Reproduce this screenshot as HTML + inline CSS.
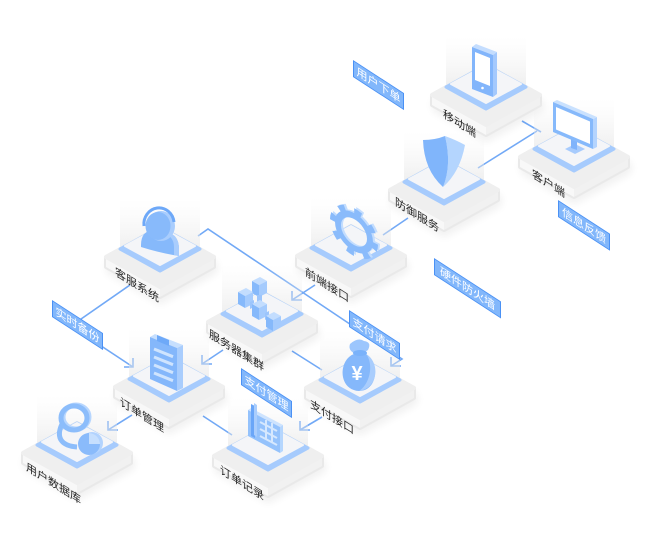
<!DOCTYPE html>
<html><head><meta charset="utf-8"><style>
html,body{margin:0;padding:0;background:#fff;}
svg{display:block;}
text{font-family:"Liberation Sans","Noto Sans CJK SC",sans-serif;}
</style></head><body>
<svg width="650" height="540" viewBox="0 0 650 540" xmlns="http://www.w3.org/2000/svg">
<defs>
 <linearGradient id="gl" x1="0" y1="0" x2="0" y2="1">
  <stop offset="0" stop-color="#f2f2f2" stop-opacity="0"/>
  <stop offset="1" stop-color="#e6e6e6" stop-opacity="0.65"/>
 </linearGradient>
 <filter id="sh" x="-30%" y="-30%" width="160%" height="160%"><feGaussianBlur stdDeviation="4"/></filter>
 <g id="pf">
  <path d="M-40,-8 L-40,-58 L40,-58 L40,-8 L0,-30Z" fill="url(#gl)"/>
  <path d="M-54,4 L0,-26 L58,6 L58,16 L0,48 L-54,16Z" fill="#000" opacity="0.05" filter="url(#sh)"/>
  <path d="M-54,0 L0,-30 L54,0 L54,10 L0,40 L-54,10Z" fill="#e9e9e9" stroke="#e9e9e9" stroke-width="4" stroke-linejoin="round"/>
  <path d="M-54,0 L0,30 L0,40 L-54,10Z" fill="#f8f8f8"/>
  <path d="M0,30 L54,0 L54,10 L0,40Z" fill="#f1f1f1"/>
  <path d="M-54,0 L0,-30 L54,0 L0,30Z" fill="#efefef" stroke="#efefef" stroke-width="4" stroke-linejoin="round"/>
  <path d="M-40,-8 L0,-30 L40,-8 L0,14Z" fill="#a6cbfd" stroke="#a6cbfd" stroke-width="3" stroke-linejoin="round"/>
  <path d="M-35,-11 L0,-30 L35,-11 L0,8Z" fill="#f4f5f8" stroke="#f4f5f8" stroke-width="2" stroke-linejoin="round"/>
 </g>
</defs>

<!-- connectors -->
<g stroke="#72a9f6" stroke-width="1.6" fill="none" stroke-linejoin="miter">
 <line x1="522" y1="121" x2="541" y2="132"/>
 <line x1="478" y1="168" x2="537" y2="131"/>
 <line x1="408" y1="218" x2="383" y2="235"/>
 <polyline points="198,236 208,229 402,359 391,366"/>
 <polyline points="391,357 391,366 401,366"/>
 <line x1="315" y1="285" x2="292" y2="300"/>
 <polyline points="292,291 292,300 302,300"/>
 <polyline points="130,285 71,326 133,367"/>
 <polyline points="124,367 133,367 133,358"/>
 <line x1="223" y1="350" x2="202" y2="364"/>
 <polyline points="202,355 202,364 212,364"/>
 <line x1="292" y1="351" x2="322" y2="370"/>
 <line x1="132" y1="415" x2="108" y2="430"/>
 <polyline points="108,421 108,430 118,430"/>
 <line x1="203" y1="416" x2="232" y2="435"/>
 <line x1="322" y1="417" x2="300" y2="430"/>
 <polyline points="300,421 300,430 310,430"/>
</g>

<!-- 移动端 -->
<g transform="translate(486,95)">
 <use href="#pf"/>
 <path d="M-14,-48 L-10,-51 L11,-43 L7,-40Z" fill="#c4ddfe"/>
 <path d="M7,-40 L11,-43 L11,-1 L7,2Z" fill="#a4c9fd"/>
 <path d="M-14,-48 L7,-40 L7,2 L-14,-6Z" fill="#82b5fb"/>
 <path d="M-11,-43 L4,-37 L4,-9 L-11,-15Z" fill="#fff"/>
 <circle cx="-3.5" cy="-7" r="1.3" fill="#fff"/>
</g>
<text transform="translate(443,117) skewY(32)" font-size="11" fill="#262626">移动端</text>

<!-- 客户端 -->
<g transform="translate(574,157)">
 <use href="#pf"/>
 <path d="M-9,-8 L1,-13 L11,-8 L1,-3Z" fill="#a7cbfd"/>
 <path d="M-3,-20 L3,-18 L3,-7 L-3,-9Z" fill="#7fb3fb"/>
 <path d="M19,-38 L23,-40 L23,-10 L19,-8Z" fill="#b4d4fe"/>
 <path d="M-21,-55 L-17,-57 L23,-40 L19,-38Z" fill="#c9e1fe"/>
 <path d="M-21,-55 L19,-38 L19,-8 L-21,-25Z" fill="#86b9fb"/>
 <path d="M-18,-50 L16,-35.5 L16,-13 L-18,-27.5Z" fill="#fff"/>
</g>
<text transform="translate(532,177) skewY(32)" font-size="11" fill="#262626">客户端</text>

<!-- 防御服务 -->
<g transform="translate(444,190)">
 <use href="#pf"/>
 <path d="M1,-54 Q12,-50 21,-45 Q16,-18 -1,-3 Q8,-25 1,-54Z" fill="#b4d5fe"/>
 <path d="M-21,-50 Q-9,-50 1,-54 Q8,-25 -1,-3 Q-20,-20 -21,-50Z" fill="#80b5fb"/>
</g>
<text transform="translate(395,205) skewY(32)" font-size="11" fill="#262626">防御服务</text>

<!-- 前端接口 -->
<g transform="translate(351,256)">
 <use href="#pf"/>
 <g transform="translate(3,-24) skewY(28)">
  <circle cx="2" cy="-2" r="16" stroke="#c3ddfe" stroke-width="6" fill="none"/>
  <circle cx="2" cy="-2" r="21" stroke="#c3ddfe" stroke-width="6" fill="none" stroke-dasharray="7 9.5"/>
  <circle cx="0" cy="0" r="16" stroke="#8abbfb" stroke-width="6" fill="none"/>
  <circle cx="0" cy="0" r="21" stroke="#8abbfb" stroke-width="6" fill="none" stroke-dasharray="7 9.5"/>
 </g>
</g>
<text transform="translate(305,275) skewY(32)" font-size="11" fill="#262626">前端接口</text>

<!-- 客服系统 -->
<g transform="translate(160,257)">
 <use href="#pf"/>
 <path d="M-19,-12 Q-19,-27 -5,-27 L7,-25 Q19,-22 19,-8 L19,-1 Q0,-4 -19,-10Z" fill="#86b9fb"/>
 <path d="M7,-25 Q19,-22 19,-8 L19,-1 L14,-2 L14,-10 Q14,-20 4,-24Z" fill="#a9cdfd"/>
 <ellipse cx="1" cy="-31" rx="14" ry="15" fill="#a9cdfd"/>
 <ellipse cx="-2" cy="-31" rx="12.5" ry="14" fill="#88bafb"/>
 <path d="M-16,-31 A15,16 0 0 1 14,-35" stroke="#6da8f8" stroke-width="3" fill="none"/>
</g>
<text transform="translate(115,275) skewY(32)" font-size="11" fill="#262626">客服系统</text>

<!-- 服务器集群 -->
<g transform="translate(262,322)">
 <use href="#pf"/>
 <path d="M-10,-41 L-2,-45 L5,-41 L-3,-37Z" fill="#c3ddfe"/>
 <path d="M-10,-41 L-3,-37 L-3,-25 L-10,-29Z" fill="#86b9fb"/>
 <path d="M-3,-37 L5,-41 L5,-29 L-3,-25Z" fill="#a5cbfd"/>
 <path d="M-5,-27 L0,-27 L0,-17 L-5,-17Z" fill="#9cc5fc"/>
 <path d="M-24,-30 L-16,-34 L-9,-30 L-17,-26Z" fill="#c3ddfe"/>
 <path d="M-24,-30 L-17,-26 L-17,-14 L-24,-18Z" fill="#86b9fb"/>
 <path d="M-17,-26 L-9,-30 L-9,-18 L-17,-14Z" fill="#a5cbfd"/>
 <path d="M-12,-20 L-8,-22 L-8,-15 L-12,-13Z" fill="#9cc5fc"/>
 <path d="M-10,-18 L-2,-22 L5,-18 L-3,-14Z" fill="#c3ddfe"/>
 <path d="M-10,-18 L-3,-14 L-3,-2 L-10,-6Z" fill="#86b9fb"/>
 <path d="M-3,-14 L5,-18 L5,-6 L-3,-2Z" fill="#a5cbfd"/>
 <path d="M3,-9 L7,-11 L7,-4 L3,-2Z" fill="#9cc5fc"/>
 <path d="M4,-6 L12,-10 L19,-6 L11,-2Z" fill="#c3ddfe"/>
 <path d="M4,-6 L11,-2 L11,9 L4,5Z" fill="#86b9fb"/>
 <path d="M11,-2 L19,-6 L19,5 L11,9Z" fill="#a5cbfd"/>
</g>
<text transform="translate(209,337) skewY(32)" font-size="11" fill="#262626">服务器集群</text>

<!-- 订单管理 -->
<g transform="translate(169,387)">
 <use href="#pf"/>
 <path d="M-19,-50 L-14,-53 L14,-42 L8,-39Z" fill="#c6dffe"/>
 <path d="M8,-39 L14,-42 L14,1 L8,4Z" fill="#a9cdfd"/>
 <path d="M-19,-50 L8,-39 L8,4 L-19,-8Z" fill="#84b7fb"/>
 <path d="M-12,-52 L0,-47 L0,-41 L-12,-46Z" fill="#6ea9f8"/>
 <g stroke="#cfe4fe" stroke-width="3">
  <line x1="-15" y1="-38" x2="4" y2="-30.3"/>
  <line x1="-15" y1="-30" x2="4" y2="-22.3"/>
  <line x1="-15" y1="-22" x2="4" y2="-14.3"/>
  <line x1="-15" y1="-14" x2="4" y2="-6.3"/>
 </g>
</g>
<text transform="translate(120,405) skewY(32)" font-size="11" fill="#262626">订单管理</text>

<!-- 支付接口 -->
<g transform="translate(360,388)">
 <use href="#pf"/>
 <path d="M-6,-34 C-22,-28 -22,2 -1,3 C18,3 20,-26 6,-34Z" fill="#85b8fb"/>
 <path d="M6,-34 C20,-26 19,0 -1,3 C10,-4 14,-24 6,-34Z" fill="#a9cdfd"/>
 <path d="M-10,-44 Q-2,-51 4,-47 Q12,-46 8,-38 Q0,-32 -6,-35 Q-12,-38 -10,-44Z" fill="#9cc6fd"/>
 <ellipse cx="0" cy="-35" rx="7" ry="3" fill="#7ab2fa"/>
 <text x="-3" y="-8" font-size="20" fill="#fff" text-anchor="middle" font-weight="bold">¥</text>
</g>
<text transform="translate(310,407) skewY(32)" font-size="11" fill="#262626">支付接口</text>

<!-- 用户数据库 -->
<g transform="translate(77,453)">
 <use href="#pf"/>
 <ellipse cx="-1" cy="-36" rx="13" ry="12" stroke="#b7d6fe" stroke-width="5" fill="none"/>
 <ellipse cx="-3" cy="-35" rx="13" ry="12" stroke="#8cbdfb" stroke-width="5" fill="none"/>
 <path d="M-15,-29 C-22,-14 -14,-7 0,-6" stroke="#8cbdfb" stroke-width="5" fill="none"/>
 <circle cx="15" cy="-10" r="11" fill="#b2d3fe"/>
 <circle cx="12" cy="-9" r="11" fill="#8abbfb"/>
 <path d="M12,-9 L12,-20 A11,11 0 0 1 23,-9Z" fill="#c6dffe"/>
</g>
<text transform="translate(26,470) skewY(32)" font-size="11" fill="#262626">用户数据库</text>

<!-- 订单记录 -->
<g transform="translate(268,456)">
 <use href="#pf"/>
 <path d="M-20,-46 L-17,-48 L15,-31 L12,-29Z" fill="#cde3fe"/>
 <path d="M12,-29 L15,-31 L15,-5 L12,-3Z" fill="#b5d6fe"/>
 <path d="M-20,-46 L12,-29 L12,-3 L-20,-20Z" fill="#94c2fc"/>
 <g stroke="#d6e8fe" stroke-width="2">
  <line x1="-8" y1="-34" x2="9" y2="-25"/>
  <line x1="-8" y1="-27" x2="9" y2="-18"/>
  <line x1="-8" y1="-20" x2="9" y2="-11"/>
  <line x1="-2" y1="-36" x2="-2" y2="-17"/>
  <line x1="4" y1="-33" x2="4" y2="-14"/>
 </g>
 <path d="M-17,-52 L-13,-50 L-13,-18 L-17,-20Z" fill="#6aa6f8"/>
 <path d="M-14,-53 L-11,-51 L-11,-19 L-14,-21Z" fill="#a9cdfd"/>
</g>
<text transform="translate(220,473) skewY(32)" font-size="11" fill="#262626">订单记录</text>

<!-- tags -->
<g transform="translate(353,60) skewY(33)">
 <rect x="0.5" y="0.5" width="50" height="16" fill="#82b7fb" stroke="#4a91f5" stroke-width="1"/>
 <text x="25.5" y="12.5" text-anchor="middle" fill="#fff" font-size="11">用户下单</text>
</g>
<g transform="translate(558,200) skewY(33)">
 <rect x="0.5" y="0.5" width="51" height="16" fill="#82b7fb" stroke="#4a91f5" stroke-width="1"/>
 <text x="26" y="12.5" text-anchor="middle" fill="#fff" font-size="11">信息反馈</text>
</g>
<g transform="translate(434,258) skewY(33)">
 <rect x="0.5" y="0.5" width="66" height="16" fill="#82b7fb" stroke="#4a91f5" stroke-width="1"/>
 <text x="33.5" y="12.5" text-anchor="middle" fill="#fff" font-size="11">硬件防火墙</text>
</g>
<g transform="translate(52,300) skewY(33)">
 <rect x="0.5" y="0.5" width="50" height="16" fill="#82b7fb" stroke="#4a91f5" stroke-width="1"/>
 <text x="25.5" y="12.5" text-anchor="middle" fill="#fff" font-size="11">实时备份</text>
</g>
<g transform="translate(349,310) skewY(33)">
 <rect x="0.5" y="0.5" width="50" height="16" fill="#82b7fb" stroke="#4a91f5" stroke-width="1"/>
 <text x="25.5" y="12.5" text-anchor="middle" fill="#fff" font-size="11">支付请求</text>
</g>
<g transform="translate(241,368) skewY(33)">
 <rect x="0.5" y="0.5" width="50" height="16" fill="#82b7fb" stroke="#4a91f5" stroke-width="1"/>
 <text x="25.5" y="12.5" text-anchor="middle" fill="#fff" font-size="11">支付管理</text>
</g>
</svg>
</body></html>
